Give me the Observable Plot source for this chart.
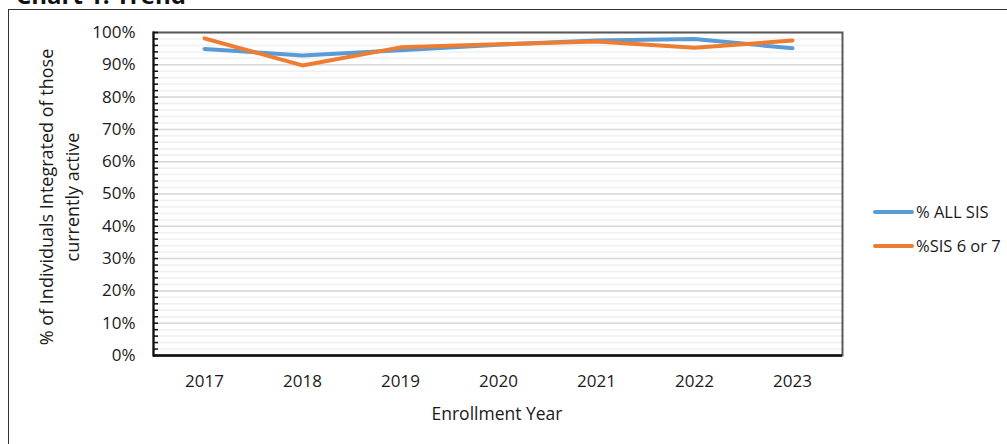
<!DOCTYPE html>
<html>
<head>
<meta charset="utf-8">
<script src="https://cdn.jsdelivr.net/npm/d3@7"></script>
<script src="https://cdn.jsdelivr.net/npm/@observablehq/plot@0.6"></script>
<style>
  html, body { margin: 0; padding: 0; background: #fff; overflow: hidden; }
  body { width: 1007px; height: 444px; position: relative; font-family: "Open Sans", Lato, sans-serif; color: #1a1a1a; }
  #frame { position: absolute; left: 8px; top: 9px; width: 1100px; height: 500px; border: 1.5px solid #333; box-sizing: border-box; }
  #title { position: absolute; left: 16px; top: -22px; font-size: 24px; font-weight: bold; color: #111; white-space: nowrap; }
  #chart { position: absolute; left: 0; top: 0; }
  #ylabel { position: absolute; left: 59px; top: 197px; width: 360px; transform: translate(-50%, -50%) rotate(-90deg); text-align: center; font-size: 18px; line-height: 26px; white-space: nowrap; }
  #xlabel { position: absolute; left: 497px; top: 401px; transform: translateX(-50%); font-size: 17.5px; white-space: nowrap; }
  .leg { position: absolute; left: 873px; height: 20px; font-size: 16.5px; white-space: nowrap; }
  .leg span.sw { position: absolute; left: 0; top: 8px; width: 41px; height: 4px; border-radius: 2px; }
  .leg span.tx { position: absolute; left: 43px; top: -2px; line-height: 24px; }
</style>
</head>
<body>
<div id="frame"></div>
<div id="title">Chart 1: Trend</div>
<div id="chart"></div>
<div id="ylabel">% of Individuals Integrated of those<br>currently active</div>
<div id="xlabel">Enrollment Year</div>
<div id="legend"></div>
<script>
const years = ["2017", "2018", "2019", "2020", "2021", "2022", "2023"];
const allSIS = [0.949, 0.929, 0.945, 0.962, 0.975, 0.980, 0.951];
const sis67  = [0.982, 0.898, 0.954, 0.964, 0.972, 0.953, 0.975];
const seriesNames = ["% ALL SIS", "%SIS 6 or 7"];
const seriesColors = ["#5B9BD5", "#ED7D31"];
const majorTicks = d3.range(0, 11).map(i => i / 10);
const minorTicks = d3.range(0, 51).map(i => i / 50);

const data = [];
years.forEach((y, i) => {
  data.push({year: y, value: allSIS[i], series: seriesNames[0]});
  data.push({year: y, value: sis67[i], series: seriesNames[1]});
});

const plot = Plot.plot({
  width: 1007,
  height: 444,
  marginLeft: 153,
  marginRight: 165,
  marginTop: 32,
  marginBottom: 89,
  style: {fontFamily: "'Open Sans', Lato, sans-serif", fontSize: "17px", color: "#1a1a1a", background: "transparent"},
  x: {type: "point", domain: years, padding: 0.5, label: null},
  y: {domain: [0, 1], label: null},
  color: {domain: seriesNames, range: seriesColors},
  marks: [
    Plot.gridY(minorTicks, {stroke: "#f0f0f0", strokeOpacity: 1, strokeWidth: 1.5}),
    Plot.gridY(majorTicks, {stroke: "#d9d9d9", strokeOpacity: 1, strokeWidth: 1.5}),
    Plot.frame({stroke: "#595959", strokeWidth: 2}),
    Plot.frame({anchor: "left", stroke: "#111", strokeWidth: 2}),
    Plot.ruleY([0], {stroke: "#111", strokeWidth: 2.5}),
    Plot.axisY({ticks: minorTicks, tickSize: 5, dx: 5, tickFormat: () => "", stroke: "#111", strokeWidth: 1.5}),
    Plot.axisY({ticks: majorTicks, tickSize: 0, tickPadding: 18, tickFormat: d3.format(".0%"), fill: "#1a1a1a", label: null}),
    Plot.axisX({tickSize: 0, tickPadding: 19, fill: "#1a1a1a", label: null}),
    Plot.line(data, {x: "year", y: "value", z: "series", stroke: "series", strokeWidth: 4, strokeLinecap: "round", strokeLinejoin: "round"})
  ]
});
document.getElementById("chart").appendChild(plot);

const legend = document.getElementById("legend");
const legendTops = [202, 236];
seriesNames.forEach((name, i) => {
  const d = document.createElement("div");
  d.className = "leg";
  d.style.top = legendTops[i] + "px";
  d.innerHTML = `<span class="sw" style="background:${seriesColors[i]}"></span><span class="tx">${name}</span>`;
  legend.appendChild(d);
});
</script>
</body>
</html>
